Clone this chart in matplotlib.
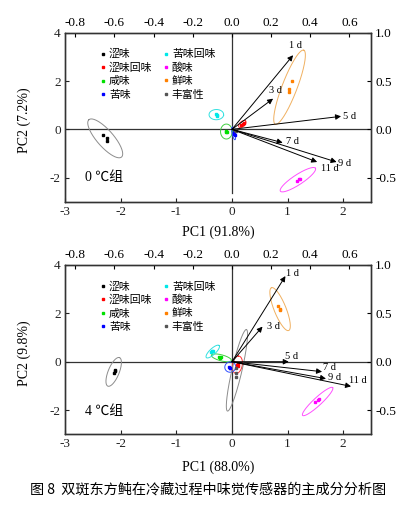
import matplotlib
matplotlib.use("Agg")
import matplotlib.pyplot as plt
import numpy as np

plt.rcParams['font.family'] = ['Liberation Serif', 'Noto Sans CJK SC']
plt.rcParams['axes.unicode_minus'] = False

CJK = ['Noto Sans CJK SC', 'DejaVu Sans']

# 感官属性
attrs = ['涩味', '涩味回味', '咸味', '苦味', '苦味回味', '酸味', '鲜味', '丰富性']
pt_colors = ['#000000', '#ff0000', '#00e000', '#0000ff', '#00e8e8', '#ff00ff', '#ff8000', '#555555']
el_colors = ['#8c8c8c', '#ff3030', '#40d040', '#3050ff', '#30e0e0', '#ff50ff', '#f0b060', '#8c8c8c']

# loadings (top / right axes)
days = ['1 d', '3 d', '5 d', '7 d', '9 d', '11 d']
load0_x = [0.312, 0.210, 0.557, 0.259, 0.534, 0.435]
load0_y = [0.768, 0.318, 0.135, -0.138, -0.338, -0.338]
load4_x = [0.273, 0.156, 0.290, 0.460, 0.480, 0.608]
load4_y = [0.885, 0.363, 0.000, -0.103, -0.175, -0.255]

# scores, 0 ℃
sc0_x = [[-2.32, -2.25, -2.24], [0.16, 0.19, 0.21], [-0.11, -0.10, -0.09], [0.03, 0.04, 0.05],
         [-0.29, -0.27, -0.26], [1.16, 1.20, 1.23], [1.08, 1.02, 1.02], [0.05, 0.06, 0.07]]
sc0_y = [[-0.22, -0.34, -0.47], [0.17, 0.22, 0.27], [-0.08, -0.10, -0.12], [-0.12, -0.18, -0.25],
         [0.63, 0.60, 0.57], [-2.12, -2.06, -2.06], [2.00, 1.69, 1.55], [-0.02, -0.04, -0.06]]
# ellipse: centre, semi-axis u, semi-axis v
el0 = [((-2.277, -0.373), (-0.293, 0.773), (0.113, 0.225)),
       ((0.186, 0.22), (0.06, 0.125), (0.03, -0.077)),
       ((-0.10, -0.09), (0.105, 0.0), (0.0, 0.31)),
       ((0.03, -0.17), (-0.023, 0.26), (0.027, 0.0)),
       ((-0.28, 0.61), (0.13, -0.03), (0.02, 0.21)),
       ((1.185, -2.085), (0.315, 0.475), (0.049, -0.173)),
       ((1.035, 1.745), (0.255, 1.535), (0.126, -0.11)),
       None]

# scores, 4 ℃
sc4_x = [[-2.11, -2.12, -2.10], [0.10, 0.11, 0.09], [-0.23, -0.21, -0.19], [-0.05, -0.03, -0.04],
         [-0.38, -0.36, -0.34], [1.50, 1.54, 1.57], [0.83, 0.86, 0.87], [0.08, 0.07, 0.066]]
sc4_y = [[-0.35, -0.45, -0.40], [-0.11, -0.18, -0.14], [0.19, 0.17, 0.18], [-0.22, -0.26, -0.24],
         [0.42, 0.44, 0.46], [-1.67, -1.59, -1.56], [2.30, 2.16, 2.12], [-0.27, -0.45, -0.62]]
el4 = [((-2.125, -0.42), (0.105, 0.59), (0.091, -0.087)),
       ((0.097, -0.125), (0.02, 0.36), (0.09, 0.0)),
       ((-0.19, 0.16), (0.18, -0.11), (-0.014, -0.12)),
       ((-0.03, -0.22), (0.09, -0.08), (0.04, 0.2)),
       ((-0.345, 0.42), (0.115, 0.25), (0.038, -0.089)),
       ((1.54, -1.645), (0.27, 0.575), (0.049, -0.12)),
       ((0.865, 2.175), (-0.155, 0.885), (0.099, 0.095)),
       ((0.09, -0.355), (0.17, 1.685), (0.087, -0.047))]

# label offsets (points)
off0 = [(2, 7), (2, 6), (6, 0), (7, 1), (6, -1), (9, -5)]
off4 = [(5, 2), (8, 0), (2, 4), (5, 3), (6, 1), (5, 4)]

KX = 3.52
KY = 4.0

fig = plt.figure(figsize=(3.97, 5.07), dpi=100)


def draw_panel(rect, sc_x, sc_y, els, lx, ly, offs, group, xlab, ylab, vline_bot, xlab_y):
    ax = fig.add_axes(rect)
    ax.set_xlim(-3, 2.5)
    ax.set_ylim(-3, 4)
    ax.plot([-3, 2.5], [0, 0], color='#333333', lw=0.9, zorder=1)
    ax.plot([0, 0], [vline_bot, 4], color='#333333', lw=0.9, zorder=1)

    t = np.linspace(0, 2 * np.pi, 200)
    for i, a in enumerate(attrs):
        if els[i] is not None:
            (cx, cy), (ux, uy), (vx, vy) = els[i]
            ax.plot(cx + ux * np.cos(t) + vx * np.sin(t), cy + uy * np.cos(t) + vy * np.sin(t),
                    color=el_colors[i], lw=0.7, zorder=2)
        ax.plot(sc_x[i], sc_y[i], 's', ms=1.8, color=pt_colors[i], ls='none', label=a, zorder=3)

    for d, x, y, o in zip(days, lx, ly, offs):
        tip = (x * KX, y * KY)
        ax.annotate('', xy=tip, xytext=(0, 0),
                    arrowprops=dict(arrowstyle='-|>', color='k', lw=0.7, mutation_scale=8,
                                    shrinkA=0, shrinkB=0), zorder=4)
        ax.annotate(d, xy=tip, xytext=o, textcoords='offset points', ha='center', va='center',
                    fontsize=7.5, zorder=5)

    ax.text(-2.64, group[1], group[0], fontsize=10, va='center', ha='left',
            family=['Liberation Serif', 'Noto Sans CJK SC'])

    ax.legend(loc='upper left', bbox_to_anchor=(0.115, 0.905), ncol=2, frameon=False,
              prop={'family': CJK, 'size': 7.8}, handlelength=0.5, handletextpad=0.3,
              columnspacing=1.0, labelspacing=0.3, borderaxespad=0, borderpad=0,
              markerscale=1.0)

    ax.set_xticks([-3, -2, -1, 0, 1, 2])
    ax.set_yticks([-2, 0, 2, 4])
    ax.tick_params(direction='in', length=3, width=0.8, labelsize=9.5, pad=3, colors='#222222')
    ax.set_xlabel(xlab, fontsize=10)
    ax.set_ylabel(ylab, fontsize=10)
    ax.xaxis.set_label_coords(0.5, xlab_y)
    ax.yaxis.set_label_coords(-0.11, 0.48)
    for s in ax.spines.values():
        s.set_linewidth(0.9)
        s.set_color('#333333')

    top = ax.twiny()
    top.set_xlim(-3 / KX, 2.5 / KX)
    top.set_xticks([-0.8, -0.6, -0.4, -0.2, 0.0, 0.2, 0.4, 0.6])
    top.set_xticklabels(['%.1f' % v for v in [-0.8, -0.6, -0.4, -0.2, 0.0, 0.2, 0.4, 0.6]])
    top.tick_params(direction='in', length=3, width=0.8, labelsize=9.5, pad=3)
    right = ax.twinx()
    right.set_ylim(-3 / KY, 4 / KY)
    right.set_yticks([-0.5, 0.0, 0.5, 1.0])
    right.set_yticklabels(['%.1f' % v for v in [-0.5, 0.0, 0.5, 1.0]])
    right.tick_params(direction='in', length=3, width=0.8, labelsize=9.5, pad=3)
    for a2 in (top, right):
        for s in a2.spines.values():
            s.set_linewidth(0.9)
            s.set_color('#333333')
    return ax


draw_panel([0.1637, 0.602, 0.771, 0.3333], sc0_x, sc0_y, el0, load0_x, load0_y, off0,
           ('0 ℃组', -1.98), 'PC1 (91.8%)', 'PC2 (7.2%)', -2.64, -0.14)
draw_panel([0.1637, 0.1434, 0.771, 0.334], sc4_x, sc4_y, el4, load4_x, load4_y, off4,
           ('4 ℃组', -2.07), 'PC1 (88.0%)', 'PC2 (9.8%)', -3, -0.155)

fig.text(0.524, 1 - 489.5 / 507, '图 8  双斑东方鲀在冷藏过程中味觉传感器的主成分分析图',
         ha='center', va='center', fontsize=10.2, family=CJK)

fig.savefig('out.png', dpi=100)
